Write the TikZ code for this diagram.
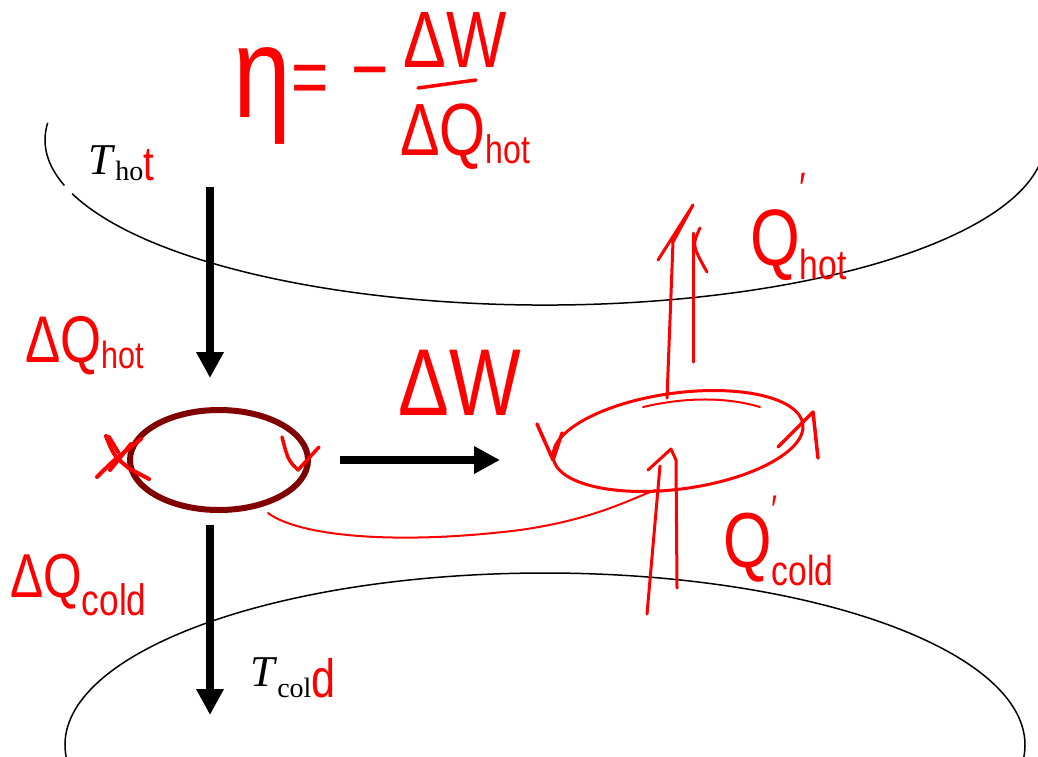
\documentclass[tikz,border=0pt]{standalone}
\usepackage{fontspec}
\setmainfont{Liberation Serif}
\newfontfamily\hand[FakeStretch=0.8]{Liberation Sans}
\usetikzlibrary{arrows.meta,shapes.geometric}
\definecolor{enginered}{RGB}{128,0,0}
\newcommand\lowtext[3]{\raisebox{#1}{\fontsize{#2}{#2}\selectfont #3}}
\tikzset{
  reservoir/.style={draw=black, line width=1.5pt},
  flow/.style={line width=8pt, -{Triangle[width=26pt,length=26pt]}},
  pen/.style={draw=red, line width=3.5pt, line cap=round, line join=round},
  thinpen/.style={draw=red, line width=2pt, line cap=round},
  hw/.style={text=red, inner sep=0pt, font=\hand\fontsize{#1}{#1}\selectfont},
}
\begin{document}
\begin{tikzpicture}[x=1pt,y=-1pt]
\useasboundingbox (0,0) rectangle (1038,756);

% hot reservoir (with a small break beside its label)
\draw[reservoir] (545,140) ++(186:500 and 165) arc[start angle=186, end angle=164, x radius=500, y radius=165];
\draw[reservoir] (545,140) ++(161:500 and 165) arc[start angle=161, end angle=9, x radius=500, y radius=165];
% cold reservoir
\draw[reservoir] (545,745) ++(176:480 and 172) arc[start angle=176, end angle=364, x radius=480, y radius=172];

% reservoir labels
\node[anchor=base west, inner sep=0pt, font=\fontsize{44}{44}\selectfont] (thot) at (88,174)
  {\textit{T}\lowtext{-6pt}{28}{ho}\lowtext{-6pt}{48}{\hand\color{red}t}};
\node[anchor=base west, inner sep=0pt, font=\fontsize{44}{44}\selectfont] (tcold) at (250,686)
  {\textit{T}\lowtext{-11pt}{28}{col}\lowtext{-11pt}{54}{\hand\color{red}d}};

% heat engine
\node[draw=enginered, line width=6pt, ellipse, minimum width=178pt, minimum height=100pt] (engine) at (219,460) {};

% heat and work flows
\coordinate (hotout) at (210,187);
\coordinate (qin) at (210,378);
\coordinate (qout) at (210,525);
\coordinate (coldin) at (210,715);
\coordinate (wout) at (340,460);
\coordinate (win) at (500,460);
\draw[flow] (hotout) -- (qin);
\draw[flow] (qout) -- (coldin);
\draw[flow] (wout) -- (win);

% direction marks on the engine cycle
\draw[pen, line width=4pt] (106,436) .. controls (114,456) .. (130,469) -- (149,479);
\draw[pen, line width=4pt] (97,477) .. controls (114,460) .. (141,439);
\draw[pen, line width=4pt] (110,470) -- (131,444);
\draw[pen, line width=4pt] (109,437) -- (118,452);
\draw[pen] (282,437) .. controls (288,460) .. (298,470) -- (319,447);

% reversed cycle (heat pump)
\node[draw=red, line width=3pt, ellipse, minimum width=252pt, minimum height=96pt, rotate=7.7] (pump) at (678,441) {};
\draw[pen] (537,424) -- (553,460) -- (562,433);
\draw[pen] (778,447) -- (813,412) -- (818,458);
\draw[thinpen] (643,407) .. controls (690,396) and (730,398) .. (760,407);

% work fed back into the reversed cycle
\coordinate (enginetap) at (268,513);
\coordinate (pumptap) at (655,490);
\draw[thinpen] (enginetap) .. controls (300,537) and (400,545) .. (520,530)
  .. controls (590,520) and (625,502) .. (pumptap);

% double arrows for Q' flows
\draw[pen, line width=3pt] (667,398) -- (673,242) -- (693,205) -- (658,260);
\draw[pen, line width=3pt] (693,233) -- (693,362);
\draw[pen, line width=3pt] (700,228) .. controls (692,245) .. (707,272);
\draw[pen, line width=3pt] (647,614) -- (660,466);
\draw[pen, line width=3pt] (648,470) -- (671,449) -- (676,460) -- (677,588);

% efficiency
\node[hw=130] (eta) at (262,96) {η};
\node[hw=80] (eq) at (310,85) {=};
\node[hw=80] (minus) at (370,82) {−};
\node[hw=80] (dw) at (455,40) {ΔW};
\draw[pen] (418,88) -- (476,80);
\node[hw=74, anchor=base west] (dqh) at (400,155) {ΔQ\lowtext{-8pt}{40}{hot}};

% flow labels
\node[hw=66, anchor=base west] (dqhot) at (25,362) {ΔQ\lowtext{-6pt}{38}{hot}};
\node[hw=95] (dwork) at (460,383) {ΔW};
\node[hw=80, anchor=base west] (qhot) at (750,265) {Q\rlap{\lowtext{62pt}{44}{′}}\lowtext{-14pt}{42}{hot}};
\node[hw=78, anchor=base west] (qcold) at (723,567) {Q\rlap{\lowtext{44pt}{40}{′}}\lowtext{-18pt}{42}{cold}};
\node[hw=62, anchor=base west] (dqcold) at (10,597) {ΔQ\lowtext{-18pt}{44}{cold}};
\end{tikzpicture}
\end{document}
